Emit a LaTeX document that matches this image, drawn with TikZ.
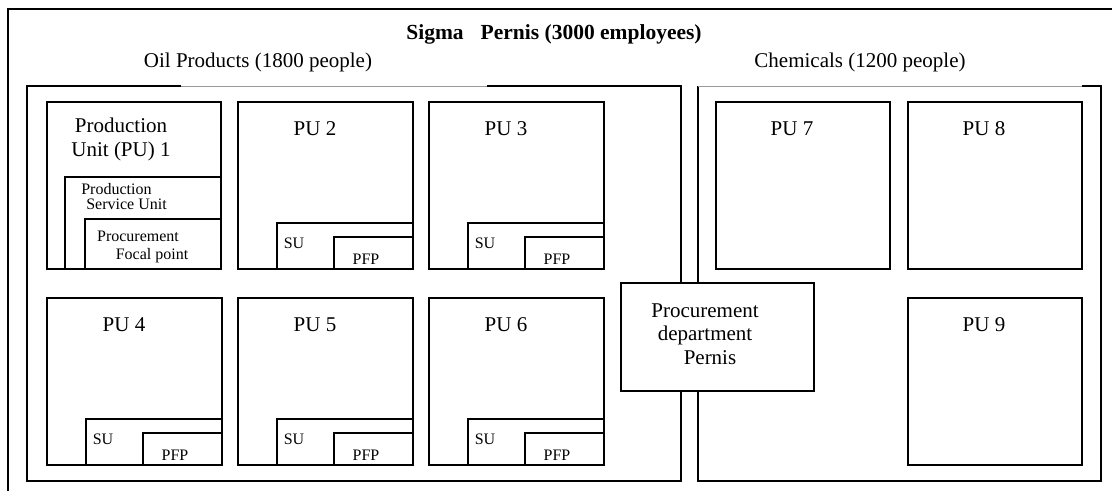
\documentclass[tikz,border=0pt]{standalone}
\usepackage{fontspec}
\setmainfont{Liberation Serif}
\usetikzlibrary{calc}
\begin{document}
\begin{tikzpicture}[x=1pt,y=-1pt,
  frame/.style={line width=2.2pt, black},
  faint/.style={line width=1pt, black!40},
  unitline/.style={line width=2pt, black},
  big/.style={font=\fontsize{21}{24}\selectfont, inner sep=0pt},
  small/.style={font=\fontsize{16}{15}\selectfont, inner sep=0pt},
  head/.style={font=\bfseries\fontsize{21.5}{24}\selectfont, inner sep=0pt},
]
\useasboundingbox (0,0) rectangle (1112,491);

% outer frame: left and top edges only
\draw[frame] (8,491) -- (8,9) -- (1112,9);
\node[head] (title) at (554,34) {Sigma\hspace{17pt}Pernis (3000 employees)};

% Oil Products division
\draw[frame] (181,86) -- (27,86) -- (27,481) -- (681,481) -- (681,86) -- (487,86);
\draw[faint] (181,86) -- (487,86);
\node[big] (oil) at (258,62) {Oil Products (1800 people)};

% Chemicals division
\draw[frame] (1082,86) -- (1101,86) -- (1101,481) -- (698,481) -- (698,86);
\draw[faint] (698,86) -- (1082,86);
\node[big] (chem) at (860,62) {Chemicals (1200 people)};

% Production unit 1 with its service unit and focal point
\draw[unitline] (47,102) rectangle (221,269);
\draw[unitline] (65,177) rectangle (221,269);
\draw[unitline] (85,219) rectangle (221,269);
\node[big, align=center] (pu1) at (121,139) {Production\\Unit (PU) 1};
\node[small, align=left] (su1) at (124,197) {Production\\\hspace{5pt}Service Unit};
\node[small] (pfp1a) at (138,236) {Procurement};
\node[small] (pfp1b) at (152,256) {Focal point};

% remaining production units of Oil Products: PU, SU, PFP
\foreach \lab/\x/\y in {2/238/102, 3/429/102, 4/47/298, 5/238/298, 6/429/298}{
  \draw[unitline] (\x,\y) rectangle ++(175,167);
  \draw[unitline] ($(\x,\y)+(39,121)$) rectangle ++(136,46);
  \draw[unitline] ($(\x,\y)+(96,135)$) rectangle ++(79,32);
  \node[big] (pu\lab) at ($(\x,\y)+(77,27)$) {PU \lab};
  \node[small] (su\lab) at ($(\x,\y)+(56,141)$) {SU};
  \node[small] (pfp\lab) at ($(\x,\y)+(128,157)$) {PFP};
}

% production units of Chemicals
\foreach \lab/\x/\y in {7/716/102, 8/908/102, 9/908/298}{
  \draw[unitline] (\x,\y) rectangle ++(174,167);
  \node[big] (pu\lab) at ($(\x,\y)+(76,27)$) {PU \lab};
}

% central procurement department
\filldraw[unitline, fill=white] (621,283) rectangle (814,391);
\node[big, align=center, font=\fontsize{21}{23.5}\selectfont] (proc) at (705,334)
  {Procurement\\department\\\hspace{10pt}Pernis};
\end{tikzpicture}
\end{document}
